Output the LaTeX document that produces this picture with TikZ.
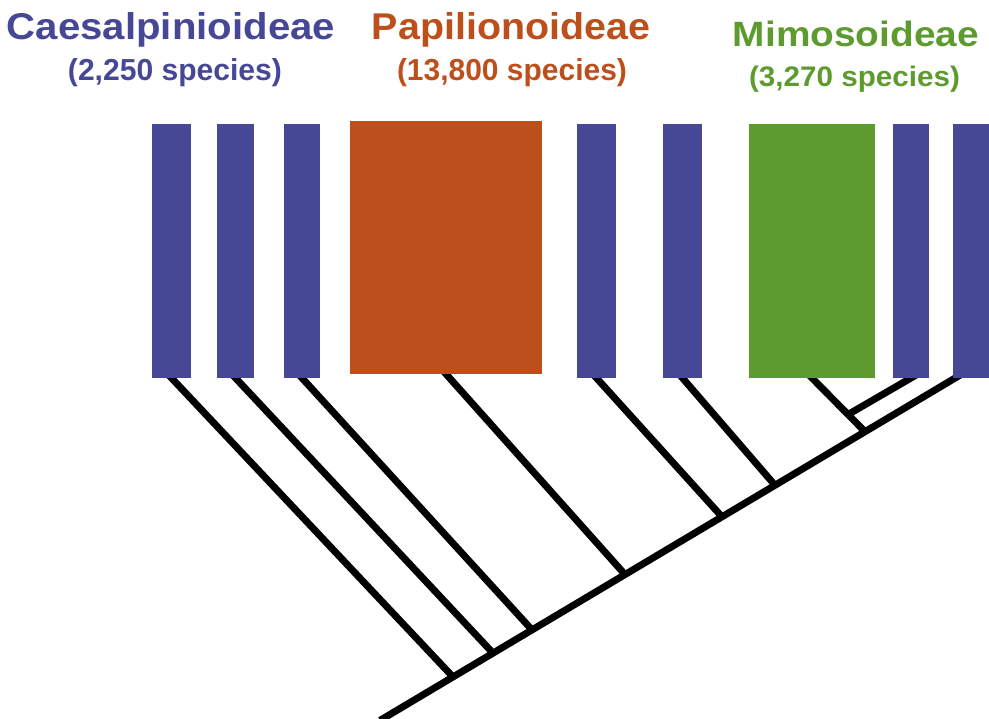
\documentclass[tikz,border=0pt]{standalone}
\usepackage{fontspec}
\setmainfont{Liberation Sans}
\usetikzlibrary{calc,backgrounds}
\definecolor{cblue}{RGB}{70,72,150}
\definecolor{corange}{RGB}{189,79,28}
\definecolor{cgreen}{RGB}{94,155,47}
\begin{document}
\begin{tikzpicture}[x=1pt,y=-1pt,
  bar/.style={draw=none,inner sep=0pt,outer sep=0pt,anchor=north west,minimum height=254pt},
  branch/.style={line width=7pt,black},
  lbl/.style={inner sep=0pt,anchor=base,font=\bfseries}]
\useasboundingbox (0,0) rectangle (989,719);
% labels
\node[lbl,text=cblue] (t1) at (171,40) {\resizebox{328pt}{27pt}{Caesalpinioideae}};
\node[lbl,text=cblue] (s1) at (175,81) {\resizebox{214pt}{22pt}{(2,250 species)}};
\node[lbl,text=corange] (t2) at (511,40) {\resizebox{278pt}{27pt}{Papilionoideae}};
\node[lbl,text=corange] (s2) at (512,81) {\resizebox{230pt}{22pt}{(13,800 species)}};
\node[lbl,text=cgreen] (t3) at (856,47) {\resizebox{246pt}{25.5pt}{Mimosoideae}};
\node[lbl,text=cgreen] (s3) at (854.5,87) {\resizebox{211pt}{20.5pt}{(3,270 species)}};
% bars
\node[bar,fill=cblue,minimum width=39pt] (b1) at (152,124) {};
\node[bar,fill=cblue,minimum width=37pt] (b2) at (217,124) {};
\node[bar,fill=cblue,minimum width=36pt] (b3) at (284,124) {};
\node[bar,fill=corange,minimum width=192pt,minimum height=253pt] (pa) at (350,121) {};
\node[bar,fill=cblue,minimum width=39pt] (b4) at (577,124) {};
\node[bar,fill=cblue,minimum width=39pt] (b5) at (663,124) {};
\node[bar,fill=cgreen,minimum width=126pt] (mi) at (749,124) {};
\node[bar,fill=cblue,minimum width=36pt] (b6) at (893,124) {};
\node[bar,fill=cblue,minimum width=36pt] (b7) at (953,124) {};
% tree
\begin{scope}[on background layer]
\coordinate (R) at (380,720.4);
\coordinate (T) at (972,368);
\coordinate (J1) at ($(R)!0.1233!(T)$);
\coordinate (J2) at ($(R)!0.1909!(T)$);
\coordinate (J3) at ($(R)!0.2568!(T)$);
\coordinate (J4) at ($(R)!0.4139!(T)$);
\coordinate (J5) at ($(R)!0.5777!(T)$);
\coordinate (J6) at ($(R)!0.6672!(T)$);
\coordinate (J7) at ($(R)!0.8193!(T)$);
\coordinate (J8) at ($(mi.south)!0.68!(J7)$);
\draw[branch] (R) -- (T);
\draw[branch] (J1) -- ($(J1)!1.05!(b1.south)$);
\draw[branch] (J2) -- ($(J2)!1.05!(b2.south)$);
\draw[branch] (J3) -- ($(J3)!1.05!(b3.south)$);
\draw[branch] (J4) -- ($(J4)!1.05!(pa.south)$);
\draw[branch] (J5) -- ($(J5)!1.05!(b4.south)$);
\draw[branch] (J6) -- ($(J6)!1.05!(b5.south)$);
\draw[branch] (J7) -- ($(J7)!1.2!(mi.south)$);
\draw[branch] (J8) -- ($(J8)!1.1!(b6.south)$);
\end{scope}
\end{tikzpicture}
\end{document}
